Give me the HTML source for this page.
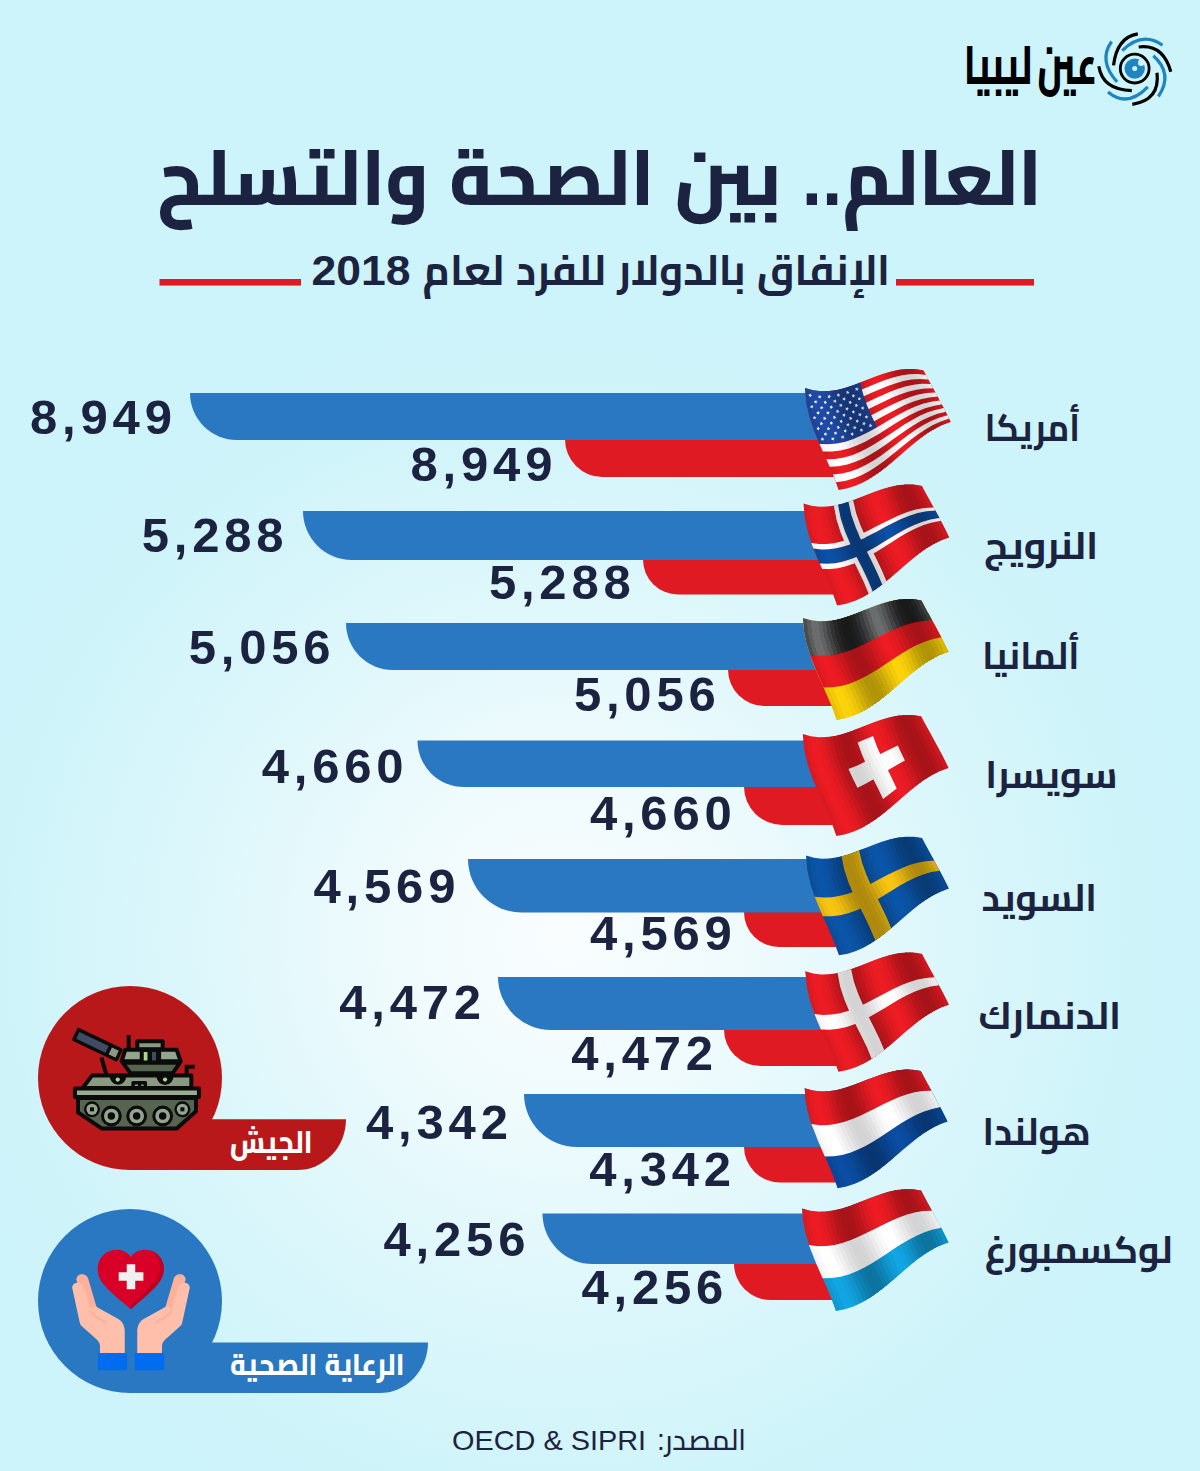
<!DOCTYPE html>
<html lang="ar"><head><meta charset="utf-8"><title>العالم.. بين الصحة والتسلح</title>
<style>html,body{margin:0;padding:0;background:#cdf4fa}body{width:1200px;height:1471px;overflow:hidden}svg{display:block}</style></head><body>
<svg width="1200" height="1471" viewBox="0 0 1200 1471">
<defs>
<radialGradient id="bg" gradientUnits="userSpaceOnUse" cx="565" cy="940" r="640"><stop offset="0" stop-color="#f9fdfe"/><stop offset="0.26" stop-color="#f0fbfd"/><stop offset="0.57" stop-color="#ddf7fb"/><stop offset="0.88" stop-color="#cef4fa"/><stop offset="1" stop-color="#cdf4fa"/></radialGradient>
<g id="shS" shape-rendering="crispEdges"><path d="M0.0,0.0 L1.9,0.7 L3.8,1.3 L5.4,16.6 L9.0,31.3 L14.2,45.5 L20.2,59.5 L26.6,73.3 L32.7,87.2 L37.9,101.3 L35.8,101.7 L33.6,102.0 L28.4,87.6 L22.3,73.4 L15.9,59.2 L9.9,45.0 L4.9,30.5 L1.4,15.5Z" fill="#000" fill-opacity="0.077"/><path d="M3.8,1.3 L5.7,1.8 L7.6,2.2 L9.3,17.3 L13.1,31.8 L18.3,45.8 L24.4,59.5 L30.8,73.1 L36.8,86.6 L42.1,100.4 L40.0,100.9 L37.9,101.3 L32.7,87.2 L26.6,73.3 L20.2,59.5 L14.2,45.5 L9.0,31.3 L5.4,16.6Z" fill="#000" fill-opacity="0.032"/><path d="M15.1,3.2 L17.0,3.3 L18.8,3.3 L21.0,17.8 L25.1,31.6 L30.4,45.0 L36.5,58.0 L42.7,70.8 L48.7,83.5 L53.9,96.4 L52.0,97.2 L50.0,97.9 L44.8,84.8 L38.8,71.8 L32.5,58.7 L26.4,45.5 L21.1,31.9 L17.2,17.9Z" fill="#000" fill-opacity="0.019"/><path d="M18.8,3.3 L20.7,3.3 L22.5,3.2 L24.8,17.5 L29.0,31.1 L34.3,44.2 L40.4,57.0 L46.6,69.6 L52.5,82.1 L57.6,94.7 L55.7,95.6 L53.9,96.4 L48.7,83.5 L42.7,70.8 L36.5,58.0 L30.4,45.0 L25.1,31.6 L21.0,17.8Z" fill="#000" fill-opacity="0.057"/><path d="M22.5,3.2 L24.4,3.0 L26.2,2.8 L28.6,16.9 L32.8,30.4 L38.2,43.3 L44.2,55.9 L50.3,68.2 L56.1,80.5 L61.2,92.8 L59.4,93.8 L57.6,94.7 L52.5,82.1 L46.6,69.6 L40.4,57.0 L34.3,44.2 L29.0,31.1 L24.8,17.5Z" fill="#000" fill-opacity="0.109"/><path d="M26.2,2.8 L28.0,2.6 L29.9,2.3 L32.4,16.2 L36.6,29.5 L42.0,42.2 L48.0,54.6 L54.0,66.7 L59.8,78.7 L64.7,90.8 L63.0,91.8 L61.2,92.8 L56.1,80.5 L50.3,68.2 L44.2,55.9 L38.2,43.3 L32.8,30.4 L28.6,16.9Z" fill="#000" fill-opacity="0.168"/><path d="M29.9,2.3 L31.7,1.9 L33.5,1.6 L36.2,15.3 L40.4,28.4 L45.8,40.9 L51.7,53.1 L57.7,65.0 L63.3,76.8 L68.2,88.6 L66.5,89.7 L64.7,90.8 L59.8,78.7 L54.0,66.7 L48.0,54.6 L42.0,42.2 L36.6,29.5 L32.4,16.2Z" fill="#000" fill-opacity="0.223"/><path d="M33.5,1.6 L35.3,1.1 L37.1,0.7 L39.9,14.2 L44.2,27.1 L49.5,39.5 L55.3,51.5 L61.2,63.2 L66.8,74.8 L71.6,86.3 L69.9,87.5 L68.2,88.6 L63.3,76.8 L57.7,65.0 L51.7,53.1 L45.8,40.9 L40.4,28.4 L36.2,15.3Z" fill="#000" fill-opacity="0.268"/><path d="M37.1,0.7 L39.0,0.2 L40.8,-0.4 L43.6,13.0 L47.9,25.8 L53.2,38.0 L59.0,49.7 L64.8,61.3 L70.2,72.6 L75.0,83.9 L73.3,85.1 L71.6,86.3 L66.8,74.8 L61.2,63.2 L55.3,51.5 L49.5,39.5 L44.2,27.1 L39.9,14.2Z" fill="#000" fill-opacity="0.294"/><path d="M40.8,-0.4 L42.6,-0.9 L44.4,-1.5 L47.3,11.7 L51.6,24.3 L56.9,36.3 L62.6,47.9 L68.2,59.2 L73.6,70.4 L78.2,81.4 L76.6,82.7 L75.0,83.9 L70.2,72.6 L64.8,61.3 L59.0,49.7 L53.2,38.0 L47.9,25.8 L43.6,13.0Z" fill="#000" fill-opacity="0.299"/><path d="M44.4,-1.5 L46.2,-2.1 L48.0,-2.8 L51.0,10.3 L55.3,22.7 L60.5,34.5 L66.1,46.0 L71.7,57.1 L76.9,68.0 L81.5,78.8 L79.9,80.1 L78.2,81.4 L73.6,70.4 L68.2,59.2 L62.6,47.9 L56.9,36.3 L51.6,24.3 L47.3,11.7Z" fill="#000" fill-opacity="0.281"/><path d="M48.0,-2.8 L49.8,-3.4 L51.6,-4.1 L54.7,8.8 L59.0,21.0 L64.2,32.7 L69.7,44.0 L75.1,54.9 L80.2,65.6 L84.7,76.2 L83.1,77.5 L81.5,78.8 L76.9,68.0 L71.7,57.1 L66.1,46.0 L60.5,34.5 L55.3,22.7 L51.0,10.3Z" fill="#000" fill-opacity="0.243"/><path d="M51.6,-4.1 L53.4,-4.8 L55.2,-5.5 L58.3,7.3 L62.7,19.3 L67.8,30.8 L73.2,41.9 L78.5,52.6 L83.5,63.2 L87.9,73.5 L86.3,74.9 L84.7,76.2 L80.2,65.6 L75.1,54.9 L69.7,44.0 L64.2,32.7 L59.0,21.0 L54.7,8.8Z" fill="#000" fill-opacity="0.191"/><path d="M55.2,-5.5 L57.0,-6.2 L58.8,-6.9 L62.0,5.7 L66.4,17.6 L71.4,28.9 L76.7,39.8 L81.9,50.3 L86.8,60.7 L91.0,70.8 L89.5,72.2 L87.9,73.5 L83.5,63.2 L78.5,52.6 L73.2,41.9 L67.8,30.8 L62.7,19.3 L58.3,7.3Z" fill="#000" fill-opacity="0.132"/><path d="M58.8,-6.9 L60.6,-7.6 L62.4,-8.3 L65.7,4.1 L70.0,15.8 L75.0,26.9 L80.2,37.6 L85.3,48.0 L90.0,58.1 L94.2,68.1 L92.6,69.4 L91.0,70.8 L86.8,60.7 L81.9,50.3 L76.7,39.8 L71.4,28.9 L66.4,17.6 L62.0,5.7Z" fill="#000" fill-opacity="0.077"/><path d="M62.4,-8.3 L64.2,-9.0 L66.1,-9.7 L69.4,2.5 L73.7,14.0 L78.6,25.0 L83.7,35.5 L88.7,45.7 L93.3,55.6 L97.4,65.3 L95.8,66.7 L94.2,68.1 L90.0,58.1 L85.3,48.0 L80.2,37.6 L75.0,26.9 L70.0,15.8 L65.7,4.1Z" fill="#000" fill-opacity="0.032"/><path d="M73.3,-12.5 L75.1,-13.1 L77.0,-13.7 L80.5,-2.1 L84.7,8.8 L89.4,19.3 L94.2,29.2 L98.9,38.8 L103.1,48.1 L106.9,57.1 L105.3,58.5 L103.7,59.8 L99.8,50.6 L95.5,41.1 L90.7,31.3 L85.8,21.1 L81.0,10.5 L76.7,-0.6Z" fill="#000" fill-opacity="0.019"/><path d="M77.0,-13.7 L78.8,-14.4 L80.6,-14.9 L84.2,-3.5 L88.4,7.2 L93.1,17.5 L97.8,27.2 L102.3,36.6 L106.5,45.7 L110.1,54.5 L108.5,55.8 L106.9,57.1 L103.1,48.1 L98.9,38.8 L94.2,29.2 L89.4,19.3 L84.7,8.8 L80.5,-2.1Z" fill="#000" fill-opacity="0.057"/><path d="M80.6,-14.9 L82.4,-15.5 L84.3,-16.0 L87.9,-4.8 L92.2,5.7 L96.8,15.7 L101.4,25.3 L105.8,34.5 L109.8,43.3 L113.4,51.9 L111.7,53.2 L110.1,54.5 L106.5,45.7 L102.3,36.6 L97.8,27.2 L93.1,17.5 L88.4,7.2 L84.2,-3.5Z" fill="#000" fill-opacity="0.109"/><path d="M84.3,-16.0 L86.1,-16.5 L88.0,-17.0 L91.7,-6.0 L95.9,4.3 L100.5,14.1 L105.0,23.5 L109.3,32.5 L113.2,41.1 L116.7,49.4 L115.0,50.6 L113.4,51.9 L109.8,43.3 L105.8,34.5 L101.4,25.3 L96.8,15.7 L92.2,5.7 L87.9,-4.8Z" fill="#000" fill-opacity="0.168"/><path d="M88.0,-17.0 L89.8,-17.4 L91.7,-17.8 L95.5,-7.1 L99.7,3.0 L104.2,12.6 L108.6,21.8 L112.8,30.5 L116.7,38.9 L120.0,47.0 L118.4,48.2 L116.7,49.4 L113.2,41.1 L109.3,32.5 L105.0,23.5 L100.5,14.1 L95.9,4.3 L91.7,-6.0Z" fill="#000" fill-opacity="0.223"/><path d="M91.7,-17.8 L93.5,-18.2 L95.4,-18.5 L99.3,-8.0 L103.6,1.9 L108.0,11.3 L112.3,20.2 L116.4,28.7 L120.2,36.9 L123.5,44.7 L121.7,45.8 L120.0,47.0 L116.7,38.9 L112.8,30.5 L108.6,21.8 L104.2,12.6 L99.7,3.0 L95.5,-7.1Z" fill="#000" fill-opacity="0.268"/><path d="M95.4,-18.5 L97.3,-18.7 L99.2,-18.9 L103.1,-8.7 L107.4,0.9 L111.8,10.0 L116.0,18.7 L120.1,27.0 L123.7,34.9 L127.0,42.5 L125.2,43.6 L123.5,44.7 L120.2,36.9 L116.4,28.7 L112.3,20.2 L108.0,11.3 L103.6,1.9 L99.3,-8.0Z" fill="#000" fill-opacity="0.294"/><path d="M99.2,-18.9 L101.1,-19.1 L103.0,-19.2 L107.0,-9.2 L111.3,0.1 L115.7,9.0 L119.8,17.4 L123.8,25.5 L127.4,33.1 L130.5,40.5 L128.7,41.5 L127.0,42.5 L123.7,34.9 L120.1,27.0 L116.0,18.7 L111.8,10.0 L107.4,0.9 L103.1,-8.7Z" fill="#000" fill-opacity="0.299"/><path d="M103.0,-19.2 L104.9,-19.2 L106.8,-19.2 L111.0,-9.6 L115.3,-0.5 L119.6,8.1 L123.7,16.3 L127.6,24.1 L131.1,31.5 L134.2,38.6 L132.4,39.5 L130.5,40.5 L127.4,33.1 L123.8,25.5 L119.8,17.4 L115.7,9.0 L111.3,0.1 L107.0,-9.2Z" fill="#000" fill-opacity="0.281"/><path d="M106.8,-19.2 L108.7,-19.1 L110.6,-19.0 L114.9,-9.7 L119.3,-0.9 L123.6,7.5 L127.6,15.4 L131.4,22.9 L134.9,30.0 L138.0,36.8 L136.1,37.7 L134.2,38.6 L131.1,31.5 L127.6,24.1 L123.7,16.3 L119.6,8.1 L115.3,-0.5 L111.0,-9.6Z" fill="#000" fill-opacity="0.243"/><path d="M110.6,-19.0 L112.5,-18.8 L114.5,-18.5 L118.9,-9.5 L123.3,-1.0 L127.6,7.0 L131.6,14.7 L135.4,21.9 L138.8,28.8 L141.8,35.3 L139.9,36.0 L138.0,36.8 L134.9,30.0 L131.4,22.9 L127.6,15.4 L123.6,7.5 L119.3,-0.9 L114.9,-9.7Z" fill="#000" fill-opacity="0.191"/><path d="M114.5,-18.5 L116.4,-18.1 L118.4,-17.7 L123.0,-9.1 L127.5,-0.9 L131.7,6.8 L135.7,14.2 L139.4,21.1 L142.8,27.7 L145.8,33.9 L143.8,34.6 L141.8,35.3 L138.8,28.8 L135.4,21.9 L131.6,14.7 L127.6,7.0 L123.3,-1.0 L118.9,-9.5Z" fill="#000" fill-opacity="0.132"/></g>
<g id="shL" shape-rendering="crispEdges"><path d="M0.0,0.0 L1.9,0.7 L3.8,1.3 L5.4,16.6 L9.0,31.3 L14.2,45.5 L20.2,59.5 L26.6,73.3 L32.7,87.2 L37.9,101.3 L35.8,101.7 L33.6,102.0 L28.4,87.6 L22.3,73.4 L15.9,59.2 L9.9,45.0 L4.9,30.5 L1.4,15.5Z" fill="#000" fill-opacity="0.043"/><path d="M3.8,1.3 L5.7,1.8 L7.6,2.2 L9.3,17.3 L13.1,31.8 L18.3,45.8 L24.4,59.5 L30.8,73.1 L36.8,86.6 L42.1,100.4 L40.0,100.9 L37.9,101.3 L32.7,87.2 L26.6,73.3 L20.2,59.5 L14.2,45.5 L9.0,31.3 L5.4,16.6Z" fill="#000" fill-opacity="0.018"/><path d="M18.8,3.3 L20.7,3.3 L22.5,3.2 L24.8,17.5 L29.0,31.1 L34.3,44.2 L40.4,57.0 L46.6,69.6 L52.5,82.1 L57.6,94.7 L55.7,95.6 L53.9,96.4 L48.7,83.5 L42.7,70.8 L36.5,58.0 L30.4,45.0 L25.1,31.6 L21.0,17.8Z" fill="#000" fill-opacity="0.032"/><path d="M22.5,3.2 L24.4,3.0 L26.2,2.8 L28.6,16.9 L32.8,30.4 L38.2,43.3 L44.2,55.9 L50.3,68.2 L56.1,80.5 L61.2,92.8 L59.4,93.8 L57.6,94.7 L52.5,82.1 L46.6,69.6 L40.4,57.0 L34.3,44.2 L29.0,31.1 L24.8,17.5Z" fill="#000" fill-opacity="0.062"/><path d="M26.2,2.8 L28.0,2.6 L29.9,2.3 L32.4,16.2 L36.6,29.5 L42.0,42.2 L48.0,54.6 L54.0,66.7 L59.8,78.7 L64.7,90.8 L63.0,91.8 L61.2,92.8 L56.1,80.5 L50.3,68.2 L44.2,55.9 L38.2,43.3 L32.8,30.4 L28.6,16.9Z" fill="#000" fill-opacity="0.095"/><path d="M29.9,2.3 L31.7,1.9 L33.5,1.6 L36.2,15.3 L40.4,28.4 L45.8,40.9 L51.7,53.1 L57.7,65.0 L63.3,76.8 L68.2,88.6 L66.5,89.7 L64.7,90.8 L59.8,78.7 L54.0,66.7 L48.0,54.6 L42.0,42.2 L36.6,29.5 L32.4,16.2Z" fill="#000" fill-opacity="0.127"/><path d="M33.5,1.6 L35.3,1.1 L37.1,0.7 L39.9,14.2 L44.2,27.1 L49.5,39.5 L55.3,51.5 L61.2,63.2 L66.8,74.8 L71.6,86.3 L69.9,87.5 L68.2,88.6 L63.3,76.8 L57.7,65.0 L51.7,53.1 L45.8,40.9 L40.4,28.4 L36.2,15.3Z" fill="#000" fill-opacity="0.152"/><path d="M37.1,0.7 L39.0,0.2 L40.8,-0.4 L43.6,13.0 L47.9,25.8 L53.2,38.0 L59.0,49.7 L64.8,61.3 L70.2,72.6 L75.0,83.9 L73.3,85.1 L71.6,86.3 L66.8,74.8 L61.2,63.2 L55.3,51.5 L49.5,39.5 L44.2,27.1 L39.9,14.2Z" fill="#000" fill-opacity="0.167"/><path d="M40.8,-0.4 L42.6,-0.9 L44.4,-1.5 L47.3,11.7 L51.6,24.3 L56.9,36.3 L62.6,47.9 L68.2,59.2 L73.6,70.4 L78.2,81.4 L76.6,82.7 L75.0,83.9 L70.2,72.6 L64.8,61.3 L59.0,49.7 L53.2,38.0 L47.9,25.8 L43.6,13.0Z" fill="#000" fill-opacity="0.169"/><path d="M44.4,-1.5 L46.2,-2.1 L48.0,-2.8 L51.0,10.3 L55.3,22.7 L60.5,34.5 L66.1,46.0 L71.7,57.1 L76.9,68.0 L81.5,78.8 L79.9,80.1 L78.2,81.4 L73.6,70.4 L68.2,59.2 L62.6,47.9 L56.9,36.3 L51.6,24.3 L47.3,11.7Z" fill="#000" fill-opacity="0.159"/><path d="M48.0,-2.8 L49.8,-3.4 L51.6,-4.1 L54.7,8.8 L59.0,21.0 L64.2,32.7 L69.7,44.0 L75.1,54.9 L80.2,65.6 L84.7,76.2 L83.1,77.5 L81.5,78.8 L76.9,68.0 L71.7,57.1 L66.1,46.0 L60.5,34.5 L55.3,22.7 L51.0,10.3Z" fill="#000" fill-opacity="0.138"/><path d="M51.6,-4.1 L53.4,-4.8 L55.2,-5.5 L58.3,7.3 L62.7,19.3 L67.8,30.8 L73.2,41.9 L78.5,52.6 L83.5,63.2 L87.9,73.5 L86.3,74.9 L84.7,76.2 L80.2,65.6 L75.1,54.9 L69.7,44.0 L64.2,32.7 L59.0,21.0 L54.7,8.8Z" fill="#000" fill-opacity="0.108"/><path d="M55.2,-5.5 L57.0,-6.2 L58.8,-6.9 L62.0,5.7 L66.4,17.6 L71.4,28.9 L76.7,39.8 L81.9,50.3 L86.8,60.7 L91.0,70.8 L89.5,72.2 L87.9,73.5 L83.5,63.2 L78.5,52.6 L73.2,41.9 L67.8,30.8 L62.7,19.3 L58.3,7.3Z" fill="#000" fill-opacity="0.075"/><path d="M58.8,-6.9 L60.6,-7.6 L62.4,-8.3 L65.7,4.1 L70.0,15.8 L75.0,26.9 L80.2,37.6 L85.3,48.0 L90.0,58.1 L94.2,68.1 L92.6,69.4 L91.0,70.8 L86.8,60.7 L81.9,50.3 L76.7,39.8 L71.4,28.9 L66.4,17.6 L62.0,5.7Z" fill="#000" fill-opacity="0.043"/><path d="M62.4,-8.3 L64.2,-9.0 L66.1,-9.7 L69.4,2.5 L73.7,14.0 L78.6,25.0 L83.7,35.5 L88.7,45.7 L93.3,55.6 L97.4,65.3 L95.8,66.7 L94.2,68.1 L90.0,58.1 L85.3,48.0 L80.2,37.6 L75.0,26.9 L70.0,15.8 L65.7,4.1Z" fill="#000" fill-opacity="0.018"/><path d="M77.0,-13.7 L78.8,-14.4 L80.6,-14.9 L84.2,-3.5 L88.4,7.2 L93.1,17.5 L97.8,27.2 L102.3,36.6 L106.5,45.7 L110.1,54.5 L108.5,55.8 L106.9,57.1 L103.1,48.1 L98.9,38.8 L94.2,29.2 L89.4,19.3 L84.7,8.8 L80.5,-2.1Z" fill="#000" fill-opacity="0.032"/><path d="M80.6,-14.9 L82.4,-15.5 L84.3,-16.0 L87.9,-4.8 L92.2,5.7 L96.8,15.7 L101.4,25.3 L105.8,34.5 L109.8,43.3 L113.4,51.9 L111.7,53.2 L110.1,54.5 L106.5,45.7 L102.3,36.6 L97.8,27.2 L93.1,17.5 L88.4,7.2 L84.2,-3.5Z" fill="#000" fill-opacity="0.062"/><path d="M84.3,-16.0 L86.1,-16.5 L88.0,-17.0 L91.7,-6.0 L95.9,4.3 L100.5,14.1 L105.0,23.5 L109.3,32.5 L113.2,41.1 L116.7,49.4 L115.0,50.6 L113.4,51.9 L109.8,43.3 L105.8,34.5 L101.4,25.3 L96.8,15.7 L92.2,5.7 L87.9,-4.8Z" fill="#000" fill-opacity="0.095"/><path d="M88.0,-17.0 L89.8,-17.4 L91.7,-17.8 L95.5,-7.1 L99.7,3.0 L104.2,12.6 L108.6,21.8 L112.8,30.5 L116.7,38.9 L120.0,47.0 L118.4,48.2 L116.7,49.4 L113.2,41.1 L109.3,32.5 L105.0,23.5 L100.5,14.1 L95.9,4.3 L91.7,-6.0Z" fill="#000" fill-opacity="0.127"/><path d="M91.7,-17.8 L93.5,-18.2 L95.4,-18.5 L99.3,-8.0 L103.6,1.9 L108.0,11.3 L112.3,20.2 L116.4,28.7 L120.2,36.9 L123.5,44.7 L121.7,45.8 L120.0,47.0 L116.7,38.9 L112.8,30.5 L108.6,21.8 L104.2,12.6 L99.7,3.0 L95.5,-7.1Z" fill="#000" fill-opacity="0.152"/><path d="M95.4,-18.5 L97.3,-18.7 L99.2,-18.9 L103.1,-8.7 L107.4,0.9 L111.8,10.0 L116.0,18.7 L120.1,27.0 L123.7,34.9 L127.0,42.5 L125.2,43.6 L123.5,44.7 L120.2,36.9 L116.4,28.7 L112.3,20.2 L108.0,11.3 L103.6,1.9 L99.3,-8.0Z" fill="#000" fill-opacity="0.167"/><path d="M99.2,-18.9 L101.1,-19.1 L103.0,-19.2 L107.0,-9.2 L111.3,0.1 L115.7,9.0 L119.8,17.4 L123.8,25.5 L127.4,33.1 L130.5,40.5 L128.7,41.5 L127.0,42.5 L123.7,34.9 L120.1,27.0 L116.0,18.7 L111.8,10.0 L107.4,0.9 L103.1,-8.7Z" fill="#000" fill-opacity="0.169"/><path d="M103.0,-19.2 L104.9,-19.2 L106.8,-19.2 L111.0,-9.6 L115.3,-0.5 L119.6,8.1 L123.7,16.3 L127.6,24.1 L131.1,31.5 L134.2,38.6 L132.4,39.5 L130.5,40.5 L127.4,33.1 L123.8,25.5 L119.8,17.4 L115.7,9.0 L111.3,0.1 L107.0,-9.2Z" fill="#000" fill-opacity="0.159"/><path d="M106.8,-19.2 L108.7,-19.1 L110.6,-19.0 L114.9,-9.7 L119.3,-0.9 L123.6,7.5 L127.6,15.4 L131.4,22.9 L134.9,30.0 L138.0,36.8 L136.1,37.7 L134.2,38.6 L131.1,31.5 L127.6,24.1 L123.7,16.3 L119.6,8.1 L115.3,-0.5 L111.0,-9.6Z" fill="#000" fill-opacity="0.138"/><path d="M110.6,-19.0 L112.5,-18.8 L114.5,-18.5 L118.9,-9.5 L123.3,-1.0 L127.6,7.0 L131.6,14.7 L135.4,21.9 L138.8,28.8 L141.8,35.3 L139.9,36.0 L138.0,36.8 L134.9,30.0 L131.4,22.9 L127.6,15.4 L123.6,7.5 L119.3,-0.9 L114.9,-9.7Z" fill="#000" fill-opacity="0.108"/><path d="M114.5,-18.5 L116.4,-18.1 L118.4,-17.7 L123.0,-9.1 L127.5,-0.9 L131.7,6.8 L135.7,14.2 L139.4,21.1 L142.8,27.7 L145.8,33.9 L143.8,34.6 L141.8,35.3 L138.8,28.8 L135.4,21.9 L131.6,14.7 L127.6,7.0 L123.3,-1.0 L118.9,-9.5Z" fill="#000" fill-opacity="0.075"/></g>
<path id="w0" d="M56.9,1.4 L64.6,-1.8 L72.4,-5.0 L80.2,-7.9 L88.1,-10.5 L96.1,-12.5 L104.2,-13.7 L112.4,-13.9 L120.9,-13.0 L122.1,-10.7 L123.3,-8.4 L114.8,-9.0 L106.4,-8.4 L98.2,-6.9 L90.2,-4.6 L82.2,-1.8 L74.4,1.4 L66.6,4.8 L58.8,8.2 L57.8,4.8ZM61.1,14.7 L68.8,11.1 L76.7,7.5 L84.5,4.1 L92.4,1.0 L100.5,-1.5 L108.7,-3.3 L117.1,-4.2 L125.8,-4.0 L127.0,-1.8 L128.1,0.3 L119.5,0.5 L111.1,1.7 L102.9,3.8 L94.8,6.5 L86.9,9.8 L79.1,13.4 L71.3,17.3 L63.6,21.1 L62.3,17.9ZM66.3,27.3 L74.0,23.3 L81.7,19.2 L89.4,15.4 L97.3,11.9 L105.2,8.9 L113.4,6.5 L121.8,5.0 L130.4,4.5 L131.6,6.5 L132.7,8.6 L124.0,9.4 L115.7,11.2 L107.6,13.8 L99.7,17.1 L92.0,20.9 L84.3,24.9 L76.8,29.1 L69.2,33.3 L67.7,30.3ZM14.5,55.9 L23.5,56.3 L32.1,55.5 L40.5,53.7 L48.6,51.0 L56.4,47.6 L64.1,43.7 L71.7,39.5 L79.2,35.1 L86.7,30.6 L94.3,26.3 L102.0,22.3 L109.8,18.8 L117.9,15.8 L126.2,13.7 L134.8,12.5 L135.9,14.4 L136.9,16.3 L128.3,17.9 L120.1,20.3 L112.1,23.5 L104.4,27.3 L96.9,31.5 L89.4,36.1 L82.0,40.7 L74.6,45.4 L67.2,49.8 L59.6,53.9 L51.8,57.5 L43.8,60.4 L35.5,62.5 L26.9,63.6 L17.9,63.6 L16.2,59.8ZM21.3,71.2 L30.3,70.9 L38.9,69.5 L47.1,67.2 L55.0,64.0 L62.7,60.1 L70.2,55.8 L77.5,51.1 L84.8,46.3 L92.0,41.4 L99.3,36.6 L106.7,32.2 L114.3,28.1 L122.2,24.6 L130.3,21.9 L138.9,20.1 L139.8,21.9 L140.8,23.7 L132.3,25.8 L124.2,28.9 L116.5,32.6 L109.0,36.9 L101.7,41.7 L94.5,46.7 L87.4,51.8 L80.3,56.9 L73.1,61.8 L65.8,66.3 L58.2,70.4 L50.4,73.8 L42.3,76.5 L33.7,78.2 L24.7,78.8 L23.0,75.0ZM27.9,86.5 L36.9,85.5 L45.4,83.5 L53.5,80.5 L61.2,76.8 L68.7,72.5 L75.9,67.7 L82.9,62.5 L89.9,57.2 L96.9,51.8 L103.9,46.6 L111.1,41.6 L118.5,37.0 L126.1,33.0 L134.1,29.7 L142.5,27.2 L143.4,28.9 L144.2,30.6 L135.8,33.4 L127.9,37.1 L120.3,41.4 L113.1,46.2 L106.0,51.5 L99.1,57.0 L92.3,62.6 L85.4,68.1 L78.5,73.5 L71.4,78.6 L64.0,83.2 L56.4,87.2 L48.4,90.5 L39.9,92.9 L30.9,94.2 L29.5,90.3ZM5.6,5.4 L5.8,6.8 L7.1,7.2 L5.9,7.9 L5.8,9.2 L4.9,8.2 L3.6,8.6 L4.2,7.4 L3.4,6.3 L4.8,6.5ZM15.2,6.9 L15.4,8.2 L16.7,8.7 L15.5,9.3 L15.4,10.7 L14.5,9.7 L13.2,10.1 L13.8,8.9 L13.0,7.7 L14.4,8.0ZM24.6,6.6 L24.8,8.0 L26.1,8.4 L24.9,9.1 L24.9,10.4 L23.9,9.4 L22.6,9.9 L23.2,8.6 L22.5,7.5 L23.8,7.7ZM33.9,5.1 L34.1,6.4 L35.4,6.9 L34.2,7.5 L34.2,8.9 L33.2,7.9 L31.9,8.3 L32.5,7.1 L31.8,6.0 L33.1,6.2ZM43.1,2.5 L43.3,3.9 L44.6,4.3 L43.4,4.9 L43.4,6.3 L42.4,5.3 L41.1,5.7 L41.8,4.5 L41.0,3.4 L42.3,3.6ZM52.3,-0.8 L52.5,0.6 L53.8,1.1 L52.6,1.7 L52.5,3.0 L51.6,2.1 L50.3,2.5 L50.9,1.2 L50.1,0.1 L51.5,0.3ZM11.2,12.0 L11.4,13.4 L12.7,13.8 L11.4,14.4 L11.4,15.8 L10.5,14.8 L9.1,15.2 L9.8,14.0 L9.0,12.9 L10.3,13.1ZM20.8,12.4 L21.0,13.7 L22.3,14.2 L21.1,14.8 L21.1,16.2 L20.1,15.2 L18.8,15.6 L19.4,14.4 L18.6,13.2 L20.0,13.5ZM30.3,11.3 L30.5,12.6 L31.8,13.1 L30.6,13.7 L30.5,15.1 L29.6,14.1 L28.3,14.5 L28.9,13.3 L28.1,12.1 L29.5,12.4ZM39.6,9.0 L39.8,10.4 L41.1,10.8 L39.9,11.4 L39.9,12.8 L38.9,11.8 L37.6,12.2 L38.2,11.0 L37.5,9.9 L38.8,10.1ZM48.9,5.9 L49.1,7.2 L50.4,7.7 L49.2,8.3 L49.1,9.7 L48.2,8.7 L46.9,9.1 L47.5,7.9 L46.7,6.8 L48.1,7.0ZM7.3,16.8 L7.5,18.2 L8.8,18.6 L7.5,19.2 L7.5,20.6 L6.5,19.6 L5.2,20.0 L5.9,18.8 L5.1,17.7 L6.4,17.9ZM17.1,17.8 L17.3,19.2 L18.6,19.6 L17.4,20.2 L17.4,21.6 L16.4,20.6 L15.1,21.0 L15.7,19.8 L15.0,18.7 L16.3,18.9ZM26.8,17.2 L27.0,18.6 L28.3,19.0 L27.1,19.7 L27.0,21.0 L26.1,20.0 L24.8,20.5 L25.4,19.2 L24.6,18.1 L26.0,18.3ZM36.3,15.3 L36.5,16.7 L37.8,17.2 L36.6,17.8 L36.5,19.1 L35.6,18.2 L34.3,18.6 L34.9,17.3 L34.1,16.2 L35.5,16.4ZM45.6,12.4 L45.8,13.8 L47.1,14.3 L45.9,14.9 L45.9,16.2 L44.9,15.3 L43.6,15.7 L44.2,14.4 L43.4,13.3 L44.8,13.5ZM54.9,8.9 L55.1,10.2 L56.4,10.7 L55.2,11.3 L55.1,12.6 L54.2,11.7 L52.9,12.1 L53.5,10.8 L52.7,9.7 L54.1,10.0ZM13.6,23.0 L13.8,24.3 L15.1,24.8 L13.8,25.4 L13.8,26.8 L12.8,25.8 L11.5,26.2 L12.2,25.0 L11.4,23.9 L12.7,24.1ZM23.4,23.0 L23.6,24.3 L24.9,24.8 L23.7,25.4 L23.7,26.8 L22.7,25.8 L21.4,26.2 L22.0,25.0 L21.2,23.8 L22.6,24.1ZM33.1,21.5 L33.3,22.9 L34.6,23.3 L33.3,23.9 L33.3,25.3 L32.3,24.3 L31.0,24.7 L31.7,23.5 L30.9,22.4 L32.2,22.6ZM42.5,18.9 L42.7,20.3 L44.0,20.7 L42.8,21.3 L42.8,22.7 L41.8,21.7 L40.5,22.1 L41.1,20.9 L40.3,19.8 L41.7,20.0ZM51.8,15.5 L52.0,16.8 L53.3,17.3 L52.1,17.9 L52.1,19.3 L51.1,18.3 L49.8,18.7 L50.4,17.4 L49.6,16.3 L51.0,16.6ZM10.0,27.8 L10.2,29.2 L11.5,29.6 L10.3,30.3 L10.3,31.6 L9.3,30.6 L8.0,31.0 L8.7,29.8 L7.9,28.7 L9.2,28.9ZM20.1,28.4 L20.3,29.8 L21.6,30.2 L20.4,30.9 L20.4,32.2 L19.4,31.2 L18.1,31.7 L18.7,30.4 L18.0,29.3 L19.3,29.5ZM29.9,27.5 L30.1,28.8 L31.4,29.3 L30.2,29.9 L30.2,31.3 L29.2,30.3 L27.9,30.7 L28.6,29.5 L27.8,28.3 L29.1,28.6ZM39.5,25.2 L39.7,26.6 L41.0,27.0 L39.8,27.6 L39.8,29.0 L38.8,28.0 L37.5,28.4 L38.1,27.2 L37.3,26.1 L38.7,26.3ZM48.9,22.0 L49.1,23.4 L50.4,23.8 L49.2,24.4 L49.2,25.8 L48.2,24.8 L46.9,25.2 L47.5,24.0 L46.7,22.9 L48.1,23.1ZM58.2,18.1 L58.4,19.4 L59.7,19.9 L58.4,20.5 L58.4,21.9 L57.5,20.9 L56.1,21.3 L56.8,20.1 L56.0,18.9 L57.4,19.2ZM16.9,33.6 L17.1,35.0 L18.4,35.5 L17.2,36.1 L17.2,37.4 L16.2,36.5 L14.9,36.9 L15.5,35.6 L14.7,34.5 L16.1,34.8ZM26.9,33.2 L27.1,34.6 L28.4,35.0 L27.2,35.6 L27.2,37.0 L26.2,36.0 L24.9,36.4 L25.5,35.2 L24.7,34.1 L26.1,34.3ZM36.6,31.4 L36.8,32.8 L38.1,33.2 L36.9,33.8 L36.9,35.2 L35.9,34.2 L34.6,34.6 L35.2,33.4 L34.4,32.3 L35.8,32.5ZM46.1,28.4 L46.3,29.8 L47.6,30.3 L46.4,30.9 L46.3,32.2 L45.4,31.3 L44.1,31.7 L44.7,30.4 L43.9,29.3 L45.3,29.5ZM55.4,24.7 L55.6,26.0 L56.9,26.5 L55.7,27.1 L55.7,28.5 L54.7,27.5 L53.4,27.9 L54.0,26.7 L53.2,25.5 L54.6,25.8ZM13.7,38.6 L13.9,40.0 L15.2,40.4 L14.0,41.0 L14.0,42.4 L13.0,41.4 L11.7,41.8 L12.3,40.6 L11.5,39.5 L12.9,39.7ZM23.9,38.8 L24.1,40.1 L25.4,40.6 L24.2,41.2 L24.2,42.6 L23.2,41.6 L21.9,42.0 L22.6,40.8 L21.8,39.6 L23.1,39.9ZM33.8,37.4 L34.0,38.8 L35.3,39.2 L34.1,39.8 L34.1,41.2 L33.1,40.2 L31.8,40.6 L32.4,39.4 L31.6,38.3 L33.0,38.5ZM43.4,34.8 L43.6,36.2 L44.9,36.6 L43.7,37.2 L43.6,38.6 L42.7,37.6 L41.4,38.0 L42.0,36.8 L41.2,35.7 L42.6,35.9ZM52.8,31.2 L53.0,32.6 L54.3,33.0 L53.0,33.6 L53.0,35.0 L52.0,34.0 L50.7,34.4 L51.4,33.2 L50.6,32.1 L51.9,32.3ZM62.0,27.0 L62.2,28.4 L63.5,28.8 L62.2,29.4 L62.2,30.8 L61.2,29.8 L59.9,30.2 L60.6,29.0 L59.8,27.9 L61.1,28.1ZM21.0,44.1 L21.2,45.4 L22.5,45.9 L21.3,46.5 L21.2,47.9 L20.3,46.9 L19.0,47.3 L19.6,46.1 L18.8,44.9 L20.2,45.2ZM31.1,43.2 L31.3,44.6 L32.6,45.0 L31.3,45.6 L31.3,47.0 L30.3,46.0 L29.0,46.4 L29.7,45.2 L28.9,44.1 L30.2,44.3ZM40.8,41.0 L41.0,42.4 L42.3,42.8 L41.0,43.4 L41.0,44.8 L40.0,43.8 L38.7,44.2 L39.4,43.0 L38.6,41.9 L39.9,42.1ZM50.2,37.7 L50.4,39.1 L51.7,39.5 L50.5,40.1 L50.4,41.5 L49.5,40.5 L48.2,40.9 L48.8,39.7 L48.0,38.6 L49.4,38.8ZM59.4,33.6 L59.6,35.0 L60.9,35.4 L59.7,36.0 L59.7,37.4 L58.7,36.4 L57.4,36.8 L58.0,35.6 L57.2,34.5 L58.6,34.7ZM18.0,49.2 L18.2,50.5 L19.5,51.0 L18.3,51.6 L18.3,53.0 L17.3,52.0 L16.0,52.4 L16.6,51.2 L15.8,50.0 L17.2,50.3ZM28.3,48.9 L28.5,50.2 L29.8,50.7 L28.6,51.3 L28.6,52.7 L27.6,51.7 L26.3,52.1 L26.9,50.9 L26.1,49.7 L27.5,50.0ZM38.2,47.1 L38.4,48.5 L39.7,48.9 L38.4,49.5 L38.4,50.9 L37.5,49.9 L36.1,50.3 L36.8,49.1 L36.0,48.0 L37.3,48.2ZM47.7,44.1 L47.9,45.5 L49.2,45.9 L48.0,46.5 L47.9,47.9 L47.0,46.9 L45.7,47.3 L46.3,46.1 L45.5,45.0 L46.9,45.2ZM57.0,40.2 L57.2,41.6 L58.5,42.0 L57.2,42.6 L57.2,44.0 L56.2,43.0 L54.9,43.4 L55.6,42.2 L54.8,41.1 L56.1,41.3ZM66.0,35.6 L66.2,37.0 L67.5,37.4 L66.3,38.1 L66.3,39.4 L65.3,38.4 L64.0,38.8 L64.6,37.6 L63.8,36.5 L65.2,36.7Z"/>
<clipPath id="cw0"><use href="#w0"/></clipPath>
<path id="w1" d="M30.4,2.2 L32.5,1.8 L34.5,1.3 L37.2,15.1 L41.5,28.1 L46.9,40.7 L44.8,41.4 L42.7,42.1 L37.3,29.4 L33.0,16.1ZM48.9,55.1 L51.0,54.2 L53.1,53.4 L58.9,65.0 L64.4,76.5 L69.2,88.0 L67.2,89.2 L65.3,90.4 L60.4,78.7 L54.8,66.9ZM45.0,-1.7 L47.3,-2.5 L49.6,-3.3 L52.6,9.7 L57.0,22.1 L62.2,33.9 L59.9,35.0 L57.5,36.1 L52.3,24.1 L47.9,11.6ZM63.5,48.3 L65.8,47.0 L68.0,45.8 L73.4,56.6 L78.5,67.2 L82.9,77.7 L80.8,79.4 L78.8,81.0 L74.2,70.2 L69.0,59.3ZM7.9,39.6 L15.7,40.5 L23.2,40.5 L30.5,39.7 L37.7,38.1 L44.7,35.9 L45.8,38.3 L46.9,40.7 L39.9,43.0 L32.7,44.7 L25.4,45.7 L17.8,45.9 L10.0,45.1 L8.9,42.4ZM55.4,31.6 L63.5,27.7 L71.5,23.6 L79.5,19.5 L87.6,15.5 L95.7,11.8 L104.0,8.6 L112.4,6.1 L121.2,4.5 L130.2,4.0 L131.0,5.5 L131.8,6.9 L122.8,7.7 L114.1,9.5 L105.7,12.2 L97.5,15.5 L89.4,19.4 L81.4,23.6 L73.5,27.9 L65.5,32.1 L57.5,36.1 L56.5,33.9ZM16.3,60.1 L24.2,60.3 L31.8,59.7 L39.1,58.2 L46.2,56.1 L53.1,53.4 L54.2,55.7 L55.4,58.0 L48.5,60.8 L41.5,63.1 L34.2,64.7 L26.6,65.6 L18.8,65.5 L17.5,62.8ZM63.5,48.3 L71.3,43.9 L79.0,39.2 L86.7,34.5 L94.4,29.9 L102.3,25.5 L110.3,21.7 L118.5,18.4 L127.1,16.0 L136.0,14.6 L136.7,16.0 L137.4,17.3 L128.6,19.0 L120.1,21.6 L111.9,25.0 L104.0,29.1 L96.2,33.6 L88.6,38.4 L81.0,43.3 L73.4,48.1 L65.7,52.6 L64.6,50.5Z"/>
<clipPath id="cw1"><use href="#w1"/></clipPath>
<path id="w3" d="M54.9,8.5 L62.5,5.2 L70.2,1.9 L74.4,13.3 L79.3,24.2 L84.3,34.6 L89.3,44.7 L93.9,54.5 L87.1,59.7 L80.3,64.9 L75.2,54.2 L69.7,43.4 L64.3,32.2 L59.2,20.6ZM45.7,35.0 L54.1,31.7 L62.3,27.8 L70.4,23.7 L78.6,19.5 L86.7,15.4 L95.0,11.6 L98.6,19.2 L102.1,26.4 L94.1,30.9 L86.3,35.6 L78.5,40.5 L70.7,45.2 L62.7,49.7 L54.7,53.7 L50.1,44.5Z"/>
<clipPath id="cw3"><use href="#w3"/></clipPath>
<path id="w5" d="M32.8,1.7 L39.6,-0.0 L46.5,-2.2 L49.4,10.9 L53.8,23.4 L59.0,35.3 L64.6,46.8 L70.2,58.0 L75.5,69.0 L80.1,79.9 L73.9,84.7 L67.5,89.0 L62.6,77.2 L56.9,65.4 L50.9,53.4 L45.0,41.2 L39.7,28.6 L35.4,15.5ZM9.3,43.4 L18.3,44.3 L26.9,43.9 L35.3,42.5 L43.4,40.2 L51.4,37.2 L59.2,33.6 L67.0,29.7 L74.7,25.6 L82.4,21.5 L90.1,17.5 L98.0,13.9 L106.0,10.8 L114.1,8.3 L122.6,6.7 L131.3,6.0 L133.5,10.1 L135.7,14.1 L127.1,15.4 L118.8,17.7 L110.8,20.7 L103.0,24.4 L95.4,28.5 L87.8,32.9 L80.4,37.4 L72.9,41.9 L65.4,46.2 L57.7,50.2 L49.9,53.7 L41.8,56.5 L33.5,58.4 L24.9,59.3 L15.9,59.1 L12.5,51.3Z"/>
<clipPath id="cw5"><use href="#w5"/></clipPath>
<path id="w6" d="M6.8,36.5 L15.7,37.7 L24.3,37.5 L32.6,36.3 L40.8,34.2 L48.8,31.4 L56.7,28.0 L64.5,24.3 L72.3,20.4 L80.1,16.4 L87.9,12.7 L95.8,9.2 L103.9,6.3 L112.1,4.1 L120.5,2.7 L129.3,2.4 L134.0,11.1 L138.4,19.2 L129.9,21.0 L121.7,23.7 L113.8,27.1 L106.2,31.1 L98.8,35.5 L91.4,40.2 L84.2,45.0 L76.9,49.9 L69.5,54.5 L62.0,58.8 L54.3,62.5 L46.4,65.7 L38.2,68.0 L29.6,69.3 L20.5,69.5 L13.3,53.1Z"/>
<clipPath id="cw6"><use href="#w6"/></clipPath>
<path id="w7" d="M6.8,36.5 L15.7,37.7 L24.3,37.5 L32.6,36.3 L40.8,34.2 L48.8,31.4 L56.7,28.0 L64.5,24.3 L72.3,20.4 L80.1,16.4 L87.9,12.7 L95.8,9.2 L103.9,6.3 L112.1,4.1 L120.5,2.7 L129.3,2.4 L134.0,11.1 L138.4,19.2 L129.9,21.0 L121.7,23.7 L113.8,27.1 L106.2,31.1 L98.8,35.5 L91.4,40.2 L84.2,45.0 L76.9,49.9 L69.5,54.5 L62.0,58.8 L54.3,62.5 L46.4,65.7 L38.2,68.0 L29.6,69.3 L20.5,69.5 L13.3,53.1Z"/>
<clipPath id="cw7"><use href="#w7"/></clipPath>
<clipPath id="cblk"><path d="M0.0,0.0 L8.1,2.3 L16.1,3.3 L24.0,3.1 L31.8,1.9 L39.6,-0.0 L47.3,-2.5 L55.0,-5.4 L62.7,-8.4 L70.4,-11.4 L78.2,-14.2 L86.0,-16.5 L93.9,-18.2 L101.9,-19.1 L110.1,-19.0 L118.4,-17.7 L122.2,-10.6 L125.8,-3.9 L129.4,2.6 L120.7,2.9 L112.2,4.3 L104.0,6.6 L95.9,9.5 L88.0,12.9 L80.2,16.7 L72.4,20.7 L64.6,24.6 L56.8,28.3 L48.9,31.7 L40.9,34.6 L32.8,36.7 L24.4,37.9 L15.8,38.1 L7.0,36.9 L3.4,25.0 L0.9,12.7Z"/></clipPath>
</defs>
<rect width="1200" height="1471" fill="#cdf4fa"/><rect width="1200" height="1471" fill="url(#bg)"/>
<g fill="none" stroke-width="3.2">
<path d="M1137.8,33.8 Q1116.9,37.2 1113.5,65.4 M1138.7,47.0 Q1163.0,43.8 1170.8,71.8 M1157.0,72.7 Q1160.2,100.0 1132.3,104.3 M1098.8,66.3 Q1102.5,89.9 1131.8,90.6" stroke="#000"/>
<path d="M1111.6,41.5 Q1097.9,60.8 1117.1,81.9 M1122.2,50.7 Q1142.3,30.9 1162.5,45.2 M1153.3,55.8 Q1173.7,73.9 1158.4,96.5 M1108.0,92.0 Q1127.4,108.2 1147.8,86.9" stroke="#1f84bf"/>
</g>
<circle cx="1134.7" cy="68.6" r="14.4" fill="none" stroke="#000" stroke-width="2.8"/>
<circle cx="1134.7" cy="68.6" r="10.2" fill="#1f84bf"/>
<circle cx="1134.7" cy="68.6" r="2.5" fill="#cdf4fa"/>
<circle cx="1141.2" cy="62.8" r="3.2" fill="#cdf4fa"/>
<text x="1097" y="83.5" direction="rtl" text-anchor="start" textLength="133" word-spacing="-7" lengthAdjust="spacingAndGlyphs" font-family="'Liberation Sans','Cairo','DejaVu Sans',sans-serif" font-weight="800" font-size="54" fill="#000">عين ليبيا</text>
<text x="1042" y="205" direction="rtl" text-anchor="start" textLength="885" lengthAdjust="spacingAndGlyphs" font-family="'Liberation Sans','Cairo','DejaVu Sans',sans-serif" font-weight="800" font-size="77.7" fill="#1c2340">العالم.. بين الصحة والتسلح</text>
<text x="890" y="284.5" direction="rtl" text-anchor="start" textLength="467.5" lengthAdjust="spacingAndGlyphs" font-family="'Liberation Sans','Cairo','DejaVu Sans',sans-serif" font-weight="700" font-size="42.5" fill="#1c2340">الإنفاق بالدولار للفرد لعام</text>
<text x="311.5" y="284.5" textLength="99" lengthAdjust="spacingAndGlyphs" font-family="'Liberation Sans','DejaVu Sans',sans-serif" font-weight="700" font-size="42.5" fill="#1c2340">2018</text>
<rect x="159.5" y="279" width="141.5" height="6.6" fill="#e01a22"/><rect x="896" y="279" width="138" height="6.6" fill="#e01a22"/>
<path d="M565.0,439.5 H850.0 V477.0 H602.5 A37.5,37.5 0 0 1 565.0,439.5 Z" fill="#e01a22"/>
<path d="M190.0,393.0 H850.0 V440.0 H237.0 A47.0,47.0 0 0 1 190.0,393.0 Z" fill="#2a77c2"/>
<text x="176.7" y="433.8" text-anchor="end" font-family="'Liberation Sans','DejaVu Sans',sans-serif" font-weight="700" font-size="49" letter-spacing="4.8" fill="#1c2340">8,949</text>
<text x="557.2" y="480.8" text-anchor="end" font-family="'Liberation Sans','DejaVu Sans',sans-serif" font-weight="700" font-size="49" letter-spacing="4.8" fill="#1c2340">8,949</text>
<text x="1080.0" y="441.2" direction="rtl" text-anchor="start" textLength="95.3" lengthAdjust="spacingAndGlyphs" font-family="'Liberation Sans','Cairo','DejaVu Sans',sans-serif" font-weight="700" font-size="37.5" fill="#1c2340">أمريكا</text>
<path d="M643.0,559.5 H850.0 V594.5 H678.0 A35.0,35.0 0 0 1 643.0,559.5 Z" fill="#e01a22"/>
<path d="M303.0,511.0 H850.0 V560.0 H352.0 A49.0,49.0 0 0 1 303.0,511.0 Z" fill="#2a77c2"/>
<text x="288.4" y="552.0" text-anchor="end" font-family="'Liberation Sans','DejaVu Sans',sans-serif" font-weight="700" font-size="49" letter-spacing="4.8" fill="#1c2340">5,288</text>
<text x="635.5" y="598.8" text-anchor="end" font-family="'Liberation Sans','DejaVu Sans',sans-serif" font-weight="700" font-size="49" letter-spacing="4.8" fill="#1c2340">5,288</text>
<text x="1098.3" y="559.0" direction="rtl" text-anchor="start" textLength="114.3" lengthAdjust="spacingAndGlyphs" font-family="'Liberation Sans','Cairo','DejaVu Sans',sans-serif" font-weight="700" font-size="37.5" fill="#1c2340" style="font-feature-settings:'rlig' 0">النرويج</text>
<path d="M728.0,669.5 H850.0 V706.0 H764.5 A36.5,36.5 0 0 1 728.0,669.5 Z" fill="#e01a22"/>
<path d="M346.0,623.0 H850.0 V670.0 H393.0 A47.0,47.0 0 0 1 346.0,623.0 Z" fill="#2a77c2"/>
<text x="335.4" y="663.8" text-anchor="end" font-family="'Liberation Sans','DejaVu Sans',sans-serif" font-weight="700" font-size="49" letter-spacing="4.8" fill="#1c2340">5,056</text>
<text x="720.5" y="711.2" text-anchor="end" font-family="'Liberation Sans','DejaVu Sans',sans-serif" font-weight="700" font-size="49" letter-spacing="4.8" fill="#1c2340">5,056</text>
<text x="1079.3" y="669.0" direction="rtl" text-anchor="start" textLength="97.0" lengthAdjust="spacingAndGlyphs" font-family="'Liberation Sans','Cairo','DejaVu Sans',sans-serif" font-weight="700" font-size="37.5" fill="#1c2340">ألمانيا</text>
<path d="M744.0,786.5 H850.0 V825.0 H782.5 A38.5,38.5 0 0 1 744.0,786.5 Z" fill="#e01a22"/>
<path d="M417.5,740.5 H850.0 V787.0 H464.0 A46.5,46.5 0 0 1 417.5,740.5 Z" fill="#2a77c2"/>
<text x="408.4" y="783.2" text-anchor="end" font-family="'Liberation Sans','DejaVu Sans',sans-serif" font-weight="700" font-size="49" letter-spacing="4.8" fill="#1c2340">4,660</text>
<text x="736.5" y="830.0" text-anchor="end" font-family="'Liberation Sans','DejaVu Sans',sans-serif" font-weight="700" font-size="49" letter-spacing="4.8" fill="#1c2340">4,660</text>
<text x="1117.6" y="787.5" direction="rtl" text-anchor="start" textLength="132.3" lengthAdjust="spacingAndGlyphs" font-family="'Liberation Sans','Cairo','DejaVu Sans',sans-serif" font-weight="700" font-size="37.5" fill="#1c2340" style="font-feature-settings:'rlig' 0">سويسرا</text>
<path d="M744.0,912.0 H850.0 V947.0 H779.0 A35.0,35.0 0 0 1 744.0,912.0 Z" fill="#e01a22"/>
<path d="M468.0,859.0 H850.0 V912.5 H521.5 A53.5,53.5 0 0 1 468.0,859.0 Z" fill="#2a77c2"/>
<text x="460.2" y="903.2" text-anchor="end" font-family="'Liberation Sans','DejaVu Sans',sans-serif" font-weight="700" font-size="49" letter-spacing="4.8" fill="#1c2340">4,569</text>
<text x="736.6" y="950.0" text-anchor="end" font-family="'Liberation Sans','DejaVu Sans',sans-serif" font-weight="700" font-size="49" letter-spacing="4.8" fill="#1c2340">4,569</text>
<text x="1096.8" y="911.2" direction="rtl" text-anchor="start" textLength="115.2" lengthAdjust="spacingAndGlyphs" font-family="'Liberation Sans','Cairo','DejaVu Sans',sans-serif" font-weight="700" font-size="37.5" fill="#1c2340">السويد</text>
<path d="M724.0,1029.5 H850.0 V1066.0 H760.5 A36.5,36.5 0 0 1 724.0,1029.5 Z" fill="#e01a22"/>
<path d="M498.0,977.0 H850.0 V1030.0 H551.0 A53.0,53.0 0 0 1 498.0,977.0 Z" fill="#2a77c2"/>
<text x="485.9" y="1019.2" text-anchor="end" font-family="'Liberation Sans','DejaVu Sans',sans-serif" font-weight="700" font-size="49" letter-spacing="4.8" fill="#1c2340">4,472</text>
<text x="717.8" y="1070.0" text-anchor="end" font-family="'Liberation Sans','DejaVu Sans',sans-serif" font-weight="700" font-size="49" letter-spacing="4.8" fill="#1c2340">4,472</text>
<text x="1121.2" y="1029.0" direction="rtl" text-anchor="start" textLength="142.6" lengthAdjust="spacingAndGlyphs" font-family="'Liberation Sans','Cairo','DejaVu Sans',sans-serif" font-weight="700" font-size="37.5" fill="#1c2340">الدنمارك</text>
<path d="M744.0,1146.5 H850.0 V1182.5 H780.0 A36.0,36.0 0 0 1 744.0,1146.5 Z" fill="#e01a22"/>
<path d="M524.0,1094.0 H850.0 V1147.0 H577.0 A53.0,53.0 0 0 1 524.0,1094.0 Z" fill="#2a77c2"/>
<text x="512.7" y="1138.8" text-anchor="end" font-family="'Liberation Sans','DejaVu Sans',sans-serif" font-weight="700" font-size="49" letter-spacing="4.8" fill="#1c2340">4,342</text>
<text x="735.8" y="1186.3" text-anchor="end" font-family="'Liberation Sans','DejaVu Sans',sans-serif" font-weight="700" font-size="49" letter-spacing="4.8" fill="#1c2340">4,342</text>
<text x="1090.7" y="1145.2" direction="rtl" text-anchor="start" textLength="108.1" lengthAdjust="spacingAndGlyphs" font-family="'Liberation Sans','Cairo','DejaVu Sans',sans-serif" font-weight="700" font-size="37.5" fill="#1c2340">هولندا</text>
<path d="M734.0,1263.5 H850.0 V1300.0 H770.5 A36.5,36.5 0 0 1 734.0,1263.5 Z" fill="#e01a22"/>
<path d="M542.5,1213.5 H850.0 V1264.0 H593.0 A50.5,50.5 0 0 1 542.5,1213.5 Z" fill="#2a77c2"/>
<text x="530.2" y="1256.2" text-anchor="end" font-family="'Liberation Sans','DejaVu Sans',sans-serif" font-weight="700" font-size="49" letter-spacing="4.8" fill="#1c2340">4,256</text>
<text x="728.1" y="1303.7" text-anchor="end" font-family="'Liberation Sans','DejaVu Sans',sans-serif" font-weight="700" font-size="49" letter-spacing="4.8" fill="#1c2340">4,256</text>
<text x="1172.6" y="1263.0" direction="rtl" text-anchor="start" textLength="187.9" lengthAdjust="spacingAndGlyphs" font-family="'Liberation Sans','Cairo','DejaVu Sans',sans-serif" font-weight="700" font-size="37.5" fill="#1c2340">لوكسمبورغ</text>
<g transform="translate(805.0 388.0) scale(1.000)"><path d="M0.0,0.0 L8.1,2.3 L16.1,3.3 L24.0,3.1 L31.8,1.9 L39.6,-0.0 L47.3,-2.5 L55.0,-5.4 L62.7,-8.4 L70.4,-11.4 L78.2,-14.2 L86.0,-16.5 L93.9,-18.2 L101.9,-19.1 L110.1,-19.0 L118.4,-17.7 L123.0,-9.1 L127.5,-0.9 L131.7,6.8 L135.7,14.2 L139.4,21.1 L142.8,27.7 L145.8,33.9 L137.5,37.0 L129.6,41.0 L122.1,45.6 L114.9,50.7 L108.0,56.2 L101.2,62.0 L94.4,67.9 L87.7,73.7 L80.8,79.4 L73.8,84.7 L66.6,89.6 L59.0,93.9 L51.1,97.5 L42.6,100.3 L33.6,102.0 L28.4,87.6 L22.3,73.4 L15.9,59.2 L9.9,45.0 L4.9,30.5 L1.4,15.5Z" fill="#ed1c24"/><path d="M0.0,0.0 L8.2,2.3 L16.2,3.3 L24.2,3.1 L32.0,1.9 L39.8,-0.1 L47.6,-2.6 L55.4,-5.5 L58.3,6.5 L62.3,17.9 L67.0,28.8 L72.1,39.3 L64.4,43.6 L56.7,47.5 L48.8,50.9 L40.7,53.6 L32.3,55.5 L23.6,56.3 L14.5,55.9 L9.0,42.5 L4.4,28.8 L1.2,14.7Z" fill="#1f4ba6"/><use href="#shS"/><use href="#w0" fill="#fff"/><g clip-path="url(#cw0)"><use href="#shL"/></g></g>
<g transform="translate(803.5 503.5) scale(1.000)"><path d="M0.0,0.0 L8.1,2.3 L16.1,3.3 L24.0,3.1 L31.8,1.9 L39.6,-0.0 L47.3,-2.5 L55.0,-5.4 L62.7,-8.4 L70.4,-11.4 L78.2,-14.2 L86.0,-16.5 L93.9,-18.2 L101.9,-19.1 L110.1,-19.0 L118.4,-17.7 L123.0,-9.1 L127.5,-0.9 L131.7,6.8 L135.7,14.2 L139.4,21.1 L142.8,27.7 L145.8,33.9 L137.5,37.0 L129.6,41.0 L122.1,45.6 L114.9,50.7 L108.0,56.2 L101.2,62.0 L94.4,67.9 L87.7,73.7 L80.8,79.4 L73.8,84.7 L66.6,89.6 L59.0,93.9 L51.1,97.5 L42.6,100.3 L33.6,102.0 L28.4,87.6 L22.3,73.4 L15.9,59.2 L9.9,45.0 L4.9,30.5 L1.4,15.5Z" fill="#ed1c24"/><path d="M34.5,1.3 L39.8,-0.1 L45.0,-1.7 L47.9,11.5 L52.2,24.0 L57.5,36.0 L63.1,47.6 L68.8,58.9 L74.1,70.0 L78.8,81.0 L74.0,84.6 L69.2,88.0 L64.3,76.3 L58.7,64.5 L52.7,52.7 L46.8,40.5 L41.5,28.0 L37.2,15.0ZM10.0,45.1 L18.9,45.9 L27.6,45.5 L35.9,44.0 L44.1,41.7 L52.0,38.6 L59.9,35.0 L67.6,31.1 L75.3,26.9 L83.0,22.8 L90.7,18.8 L98.5,15.1 L106.5,11.9 L114.7,9.3 L123.1,7.6 L131.8,6.9 L133.9,10.8 L136.0,14.6 L127.3,16.0 L119.1,18.3 L111.1,21.3 L103.3,25.0 L95.7,29.1 L88.2,33.6 L80.7,38.1 L73.3,42.7 L65.8,47.0 L58.1,51.0 L50.3,54.5 L42.3,57.3 L34.0,59.3 L25.3,60.3 L16.3,60.1 L13.1,52.6Z" fill="#0b50a6"/><use href="#shS"/><use href="#w1" fill="#fff"/><g clip-path="url(#cw1)"><use href="#shL"/></g></g>
<g transform="translate(803.0 618.0) scale(1.000)"><path d="M0.0,0.0 L8.1,2.3 L16.1,3.3 L24.0,3.1 L31.8,1.9 L39.6,-0.0 L47.3,-2.5 L55.0,-5.4 L62.7,-8.4 L70.4,-11.4 L78.2,-14.2 L86.0,-16.5 L93.9,-18.2 L101.9,-19.1 L110.1,-19.0 L118.4,-17.7 L123.0,-9.1 L127.5,-0.9 L131.7,6.8 L135.7,14.2 L139.4,21.1 L142.8,27.7 L145.8,33.9 L137.5,37.0 L129.6,41.0 L122.1,45.6 L114.9,50.7 L108.0,56.2 L101.2,62.0 L94.4,67.9 L87.7,73.7 L80.8,79.4 L73.8,84.7 L66.6,89.6 L59.0,93.9 L51.1,97.5 L42.6,100.3 L33.6,102.0 L28.4,87.6 L22.3,73.4 L15.9,59.2 L9.9,45.0 L4.9,30.5 L1.4,15.5Z" fill="#fcd20a"/><path d="M0.0,0.0 L8.1,2.3 L16.1,3.3 L24.0,3.1 L31.8,1.9 L39.6,-0.0 L47.3,-2.5 L55.0,-5.4 L62.7,-8.4 L70.4,-11.4 L78.2,-14.2 L86.0,-16.5 L93.9,-18.2 L101.9,-19.1 L110.1,-19.0 L118.4,-17.7 L122.2,-10.6 L125.8,-3.9 L129.4,2.6 L120.7,2.9 L112.2,4.3 L104.0,6.6 L95.9,9.5 L88.0,12.9 L80.2,16.7 L72.4,20.7 L64.6,24.6 L56.8,28.3 L48.9,31.7 L40.9,34.6 L32.8,36.7 L24.4,37.9 L15.8,38.1 L7.0,36.9 L3.4,25.0 L0.9,12.7Z" fill="#6b6c6e"/><path d="M6.8,36.5 L15.7,37.7 L24.3,37.5 L32.6,36.3 L40.8,34.2 L48.8,31.4 L56.7,28.0 L64.5,24.3 L72.3,20.4 L80.1,16.4 L87.9,12.7 L95.8,9.2 L103.9,6.3 L112.1,4.1 L120.5,2.7 L129.3,2.4 L134.0,11.1 L138.4,19.2 L129.9,21.0 L121.7,23.7 L113.8,27.1 L106.2,31.1 L98.8,35.5 L91.4,40.2 L84.2,45.0 L76.9,49.9 L69.5,54.5 L62.0,58.8 L54.3,62.5 L46.4,65.7 L38.2,68.0 L29.6,69.3 L20.5,69.5 L13.3,53.1Z" fill="#ed1c24"/><use href="#shS"/><g clip-path="url(#cblk)"><use href="#shS"/><use href="#shS"/><use href="#shS"/></g></g>
<g transform="translate(802.8 734.0) scale(1.000)"><path d="M0.0,0.0 L8.1,2.3 L16.1,3.3 L24.0,3.1 L31.8,1.9 L39.6,-0.0 L47.3,-2.5 L55.0,-5.4 L62.7,-8.4 L70.4,-11.4 L78.2,-14.2 L86.0,-16.5 L93.9,-18.2 L101.9,-19.1 L110.1,-19.0 L118.4,-17.7 L123.0,-9.1 L127.5,-0.9 L131.7,6.8 L135.7,14.2 L139.4,21.1 L142.8,27.7 L145.8,33.9 L137.5,37.0 L129.6,41.0 L122.1,45.6 L114.9,50.7 L108.0,56.2 L101.2,62.0 L94.4,67.9 L87.7,73.7 L80.8,79.4 L73.8,84.7 L66.6,89.6 L59.0,93.9 L51.1,97.5 L42.6,100.3 L33.6,102.0 L28.4,87.6 L22.3,73.4 L15.9,59.2 L9.9,45.0 L4.9,30.5 L1.4,15.5Z" fill="#ed1c24"/><use href="#shS"/><use href="#w3" fill="#fff"/><g clip-path="url(#cw3)"><use href="#shL"/></g></g>
<g transform="translate(806.0 855.4) scale(0.980)"><path d="M0.0,0.0 L8.1,2.3 L16.1,3.3 L24.0,3.1 L31.8,1.9 L39.6,-0.0 L47.3,-2.5 L55.0,-5.4 L62.7,-8.4 L70.4,-11.4 L78.2,-14.2 L86.0,-16.5 L93.9,-18.2 L101.9,-19.1 L110.1,-19.0 L118.4,-17.7 L123.0,-9.1 L127.5,-0.9 L131.7,6.8 L135.7,14.2 L139.4,21.1 L142.8,27.7 L145.8,33.9 L137.5,37.0 L129.6,41.0 L122.1,45.6 L114.9,50.7 L108.0,56.2 L101.2,62.0 L94.4,67.9 L87.7,73.7 L80.8,79.4 L73.8,84.7 L66.6,89.6 L59.0,93.9 L51.1,97.5 L42.6,100.3 L33.6,102.0 L28.4,87.6 L22.3,73.4 L15.9,59.2 L9.9,45.0 L4.9,30.5 L1.4,15.5Z" fill="#0b55a8"/><path d="M36.3,0.9 L42.3,-0.8 L48.2,-2.8 L54.2,-5.1 L57.3,7.7 L61.7,19.8 L66.8,31.4 L72.2,42.5 L77.6,53.3 L82.6,63.8 L87.0,74.3 L81.7,78.7 L76.3,82.9 L70.8,86.9 L65.9,75.3 L60.4,63.6 L54.5,51.9 L48.6,39.9 L43.3,27.5 L39.0,14.5ZM8.8,42.1 L17.7,43.0 L26.4,42.7 L34.7,41.3 L42.9,39.1 L50.9,36.1 L58.7,32.6 L66.5,28.7 L74.2,24.6 L81.9,20.5 L89.7,16.6 L97.6,13.0 L105.6,9.9 L113.8,7.5 L122.2,5.9 L130.9,5.3 L133.8,10.6 L136.5,15.6 L127.9,17.0 L119.6,19.4 L111.7,22.5 L103.9,26.3 L96.3,30.5 L88.9,35.0 L81.5,39.6 L74.0,44.2 L66.5,48.6 L58.9,52.7 L51.2,56.2 L43.1,59.1 L34.8,61.1 L26.2,62.2 L17.2,62.0 L12.9,52.1Z" fill="#f8c414"/><use href="#shS"/></g>
<g transform="translate(805.3 971.3) scale(0.985)"><path d="M0.0,0.0 L8.1,2.3 L16.1,3.3 L24.0,3.1 L31.8,1.9 L39.6,-0.0 L47.3,-2.5 L55.0,-5.4 L62.7,-8.4 L70.4,-11.4 L78.2,-14.2 L86.0,-16.5 L93.9,-18.2 L101.9,-19.1 L110.1,-19.0 L118.4,-17.7 L123.0,-9.1 L127.5,-0.9 L131.7,6.8 L135.7,14.2 L139.4,21.1 L142.8,27.7 L145.8,33.9 L137.5,37.0 L129.6,41.0 L122.1,45.6 L114.9,50.7 L108.0,56.2 L101.2,62.0 L94.4,67.9 L87.7,73.7 L80.8,79.4 L73.8,84.7 L66.6,89.6 L59.0,93.9 L51.1,97.5 L42.6,100.3 L33.6,102.0 L28.4,87.6 L22.3,73.4 L15.9,59.2 L9.9,45.0 L4.9,30.5 L1.4,15.5Z" fill="#ed1c24"/><use href="#shS"/><use href="#w5" fill="#fff"/><g clip-path="url(#cw5)"><use href="#shL"/></g></g>
<g transform="translate(804.7 1088.3) scale(0.980)"><path d="M0.0,0.0 L8.1,2.3 L16.1,3.3 L24.0,3.1 L31.8,1.9 L39.6,-0.0 L47.3,-2.5 L55.0,-5.4 L62.7,-8.4 L70.4,-11.4 L78.2,-14.2 L86.0,-16.5 L93.9,-18.2 L101.9,-19.1 L110.1,-19.0 L118.4,-17.7 L123.0,-9.1 L127.5,-0.9 L131.7,6.8 L135.7,14.2 L139.4,21.1 L142.8,27.7 L145.8,33.9 L137.5,37.0 L129.6,41.0 L122.1,45.6 L114.9,50.7 L108.0,56.2 L101.2,62.0 L94.4,67.9 L87.7,73.7 L80.8,79.4 L73.8,84.7 L66.6,89.6 L59.0,93.9 L51.1,97.5 L42.6,100.3 L33.6,102.0 L28.4,87.6 L22.3,73.4 L15.9,59.2 L9.9,45.0 L4.9,30.5 L1.4,15.5Z" fill="#0b4da2"/><path d="M0.0,0.0 L8.1,2.3 L16.1,3.3 L24.0,3.1 L31.8,1.9 L39.6,-0.0 L47.3,-2.5 L55.0,-5.4 L62.7,-8.4 L70.4,-11.4 L78.2,-14.2 L86.0,-16.5 L93.9,-18.2 L101.9,-19.1 L110.1,-19.0 L118.4,-17.7 L122.2,-10.6 L125.8,-3.9 L129.4,2.6 L120.7,2.9 L112.2,4.3 L104.0,6.6 L95.9,9.5 L88.0,12.9 L80.2,16.7 L72.4,20.7 L64.6,24.6 L56.8,28.3 L48.9,31.7 L40.9,34.6 L32.8,36.7 L24.4,37.9 L15.8,38.1 L7.0,36.9 L3.4,25.0 L0.9,12.7Z" fill="#ed1c24"/><use href="#shS"/><use href="#w6" fill="#fff"/><g clip-path="url(#cw6)"><use href="#shL"/></g></g>
<g transform="translate(802.1 1208.4) scale(1.005)"><path d="M0.0,0.0 L8.1,2.3 L16.1,3.3 L24.0,3.1 L31.8,1.9 L39.6,-0.0 L47.3,-2.5 L55.0,-5.4 L62.7,-8.4 L70.4,-11.4 L78.2,-14.2 L86.0,-16.5 L93.9,-18.2 L101.9,-19.1 L110.1,-19.0 L118.4,-17.7 L123.0,-9.1 L127.5,-0.9 L131.7,6.8 L135.7,14.2 L139.4,21.1 L142.8,27.7 L145.8,33.9 L137.5,37.0 L129.6,41.0 L122.1,45.6 L114.9,50.7 L108.0,56.2 L101.2,62.0 L94.4,67.9 L87.7,73.7 L80.8,79.4 L73.8,84.7 L66.6,89.6 L59.0,93.9 L51.1,97.5 L42.6,100.3 L33.6,102.0 L28.4,87.6 L22.3,73.4 L15.9,59.2 L9.9,45.0 L4.9,30.5 L1.4,15.5Z" fill="#12a5e3"/><path d="M0.0,0.0 L8.1,2.3 L16.1,3.3 L24.0,3.1 L31.8,1.9 L39.6,-0.0 L47.3,-2.5 L55.0,-5.4 L62.7,-8.4 L70.4,-11.4 L78.2,-14.2 L86.0,-16.5 L93.9,-18.2 L101.9,-19.1 L110.1,-19.0 L118.4,-17.7 L122.2,-10.6 L125.8,-3.9 L129.4,2.6 L120.7,2.9 L112.2,4.3 L104.0,6.6 L95.9,9.5 L88.0,12.9 L80.2,16.7 L72.4,20.7 L64.6,24.6 L56.8,28.3 L48.9,31.7 L40.9,34.6 L32.8,36.7 L24.4,37.9 L15.8,38.1 L7.0,36.9 L3.4,25.0 L0.9,12.7Z" fill="#ed1c24"/><use href="#shS"/><use href="#w7" fill="#fff"/><g clip-path="url(#cw7)"><use href="#shL"/></g></g>
<circle cx="130.0" cy="1078.0" r="92.0" fill="#b9181a"/><path d="M130.0,1119.2 H346.0 A48.8,50.8 0 0 1 297.2,1170.0 H130.0 Z" fill="#b9181a"/>
<circle cx="130.0" cy="1301.0" r="92.0" fill="#2a77c2"/><path d="M130.0,1342.5 H428.0 A48.5,50.5 0 0 1 379.5,1393.0 H130.0 Z" fill="#2a77c2"/>
<text x="312.5" y="1152.5" direction="rtl" text-anchor="start" textLength="82.5" lengthAdjust="spacingAndGlyphs" font-family="'Liberation Sans','Cairo','DejaVu Sans',sans-serif" font-weight="800" font-size="31" fill="#fff">الجيش</text>
<text x="404.5" y="1374.7" direction="rtl" text-anchor="start" textLength="174.5" lengthAdjust="spacingAndGlyphs" font-family="'Liberation Sans','Cairo','DejaVu Sans',sans-serif" font-weight="800" font-size="30.5" fill="#fff">الرعاية الصحية</text>
<g transform="translate(60 1010) scale(0.13333)" stroke-linejoin="round"><path d="M310,355 L348,485" stroke="#0b0b0b" stroke-width="30" fill="none"/><g transform="rotate(25.5 140 150)"><rect x="138" y="148" width="352" height="82" fill="#3f4a63" stroke="#0b0b0b" stroke-width="26"/><rect x="420" y="161" width="58" height="56" fill="#8a9a82"/><rect x="395" y="148" width="26" height="82" fill="#0b0b0b"/></g><rect x="500" y="188" width="30" height="110" fill="#0b0b0b"/><rect x="580" y="235" width="190" height="60" fill="#8a9a82" stroke="#0b0b0b" stroke-width="30"/><path d="M490,298 L875,298 L905,385 L462,385 Z" fill="#93a58f" stroke="#0b0b0b" stroke-width="30"/><rect x="598" y="300" width="160" height="85" fill="#0b0b0b"/><rect x="628" y="315" width="28" height="65" fill="#a9d68c"/><rect x="690" y="315" width="30" height="65" fill="#3f4a63"/><path d="M470,395 L900,395 L845,475 L530,475 Z" fill="#55654f" stroke="#0b0b0b" stroke-width="30"/><path d="M950,480 V425 H1010" stroke="#0b0b0b" stroke-width="30" fill="none" stroke-linejoin="miter"/><path d="M240,492 L985,492 L985,585 L170,585 Z" fill="#8a9a82" stroke="#0b0b0b" stroke-width="30"/><path d="M385,492 A50,56 0 0 0 485,492 Z M736,492 A50,56 0 0 0 840,492 Z" fill="#0b0b0b" stroke="#0b0b0b" stroke-width="26"/><circle cx="433" cy="522" r="16" fill="#a9d68c"/><circle cx="788" cy="522" r="16" fill="#a9d68c"/><path d="M548,585 V545 H640 V585" stroke="#0b0b0b" stroke-width="26" fill="none"/><rect x="585" y="545" width="24" height="40" fill="#0b0b0b"/><path d="M135,660 L1020,660 L1020,760 L875,888 L312,888 L135,768 Z" fill="#55654f" stroke="#0b0b0b" stroke-width="30"/><rect x="112" y="588" width="930" height="64" fill="#9baa93" stroke="#0b0b0b" stroke-width="30"/><circle cx="240" cy="745" r="60" fill="#0b0b0b"/><circle cx="240" cy="745" r="42" fill="#93a58f"/><rect x="225" y="730" width="30" height="30" fill="#0b0b0b"/><circle cx="918" cy="745" r="60" fill="#0b0b0b"/><circle cx="918" cy="745" r="42" fill="#93a58f"/><rect x="903" y="730" width="30" height="30" fill="#0b0b0b"/><circle cx="385" cy="795" r="78" fill="#0b0b0b"/><circle cx="385" cy="795" r="55" fill="#93a58f"/><circle cx="385" cy="795" r="28" fill="#0b0b0b"/><circle cx="575" cy="795" r="78" fill="#0b0b0b"/><circle cx="575" cy="795" r="55" fill="#93a58f"/><circle cx="575" cy="795" r="28" fill="#0b0b0b"/><circle cx="770" cy="795" r="78" fill="#0b0b0b"/><circle cx="770" cy="795" r="55" fill="#93a58f"/><circle cx="770" cy="795" r="28" fill="#0b0b0b"/></g>
<g transform="translate(60 1235) scale(0.116667)"><path d="M140,385 C140,320 235,320 245,385 L320,640 L250,660 Z" fill="#ffb09a"/><path d="M105,455 C100,400 190,390 205,450 L262,640 C275,610 300,605 330,625 L500,720 C545,750 555,790 555,830 L555,1012 L343,1012 L343,960 C343,930 335,915 315,895 L185,780 C175,770 172,760 168,745 Z" fill="#ffbfab"/><path d="M262,655 Q300,700 395,750" stroke="#ffb09a" stroke-width="20" fill="none" stroke-linecap="round"/><rect x="325" y="1012" width="250" height="146" fill="#006df0"/><g transform="translate(1217 0) scale(-1 1)"><path d="M140,385 C140,320 235,320 245,385 L320,640 L250,660 Z" fill="#ffb09a"/><path d="M105,455 C100,400 190,390 205,450 L262,640 C275,610 300,605 330,625 L500,720 C545,750 555,790 555,830 L555,1012 L343,1012 L343,960 C343,930 335,915 315,895 L185,780 C175,770 172,760 168,745 Z" fill="#ffbfab"/><path d="M262,655 Q300,700 395,750" stroke="#ffb09a" stroke-width="20" fill="none" stroke-linecap="round"/><rect x="325" y="1012" width="250" height="146" fill="#006df0"/></g><path d="M607,188 C560,120 470,110 400,150 C320,200 300,300 350,390 C400,470 520,560 607,636 C690,560 810,470 860,390 C915,300 890,200 815,150 C745,110 655,120 607,188 Z" fill="#d80027"/><path d="M760,130 C800,135 850,175 860,260 C865,340 810,420 607,600 L607,636 C690,560 810,470 860,390 C915,300 890,200 815,150 C800,140 780,133 760,130 Z" fill="#c00020"/><path d="M572,250 H645 V320 H715 V392 H645 V465 H572 V392 H503 V320 H572 Z" fill="#f0f0f0"/></g>
<text x="746" y="1450" direction="rtl" text-anchor="start" textLength="89" lengthAdjust="spacingAndGlyphs" font-family="'Liberation Sans','Cairo','DejaVu Sans',sans-serif" font-weight="500" font-size="29" fill="#1c2340">المصدر:</text>
<text x="452" y="1450" textLength="194" lengthAdjust="spacingAndGlyphs" font-family="'Liberation Sans','DejaVu Sans',sans-serif" font-weight="400" font-size="28" fill="#1c2340">OECD &amp; SIPRI</text>
</svg></body></html>
